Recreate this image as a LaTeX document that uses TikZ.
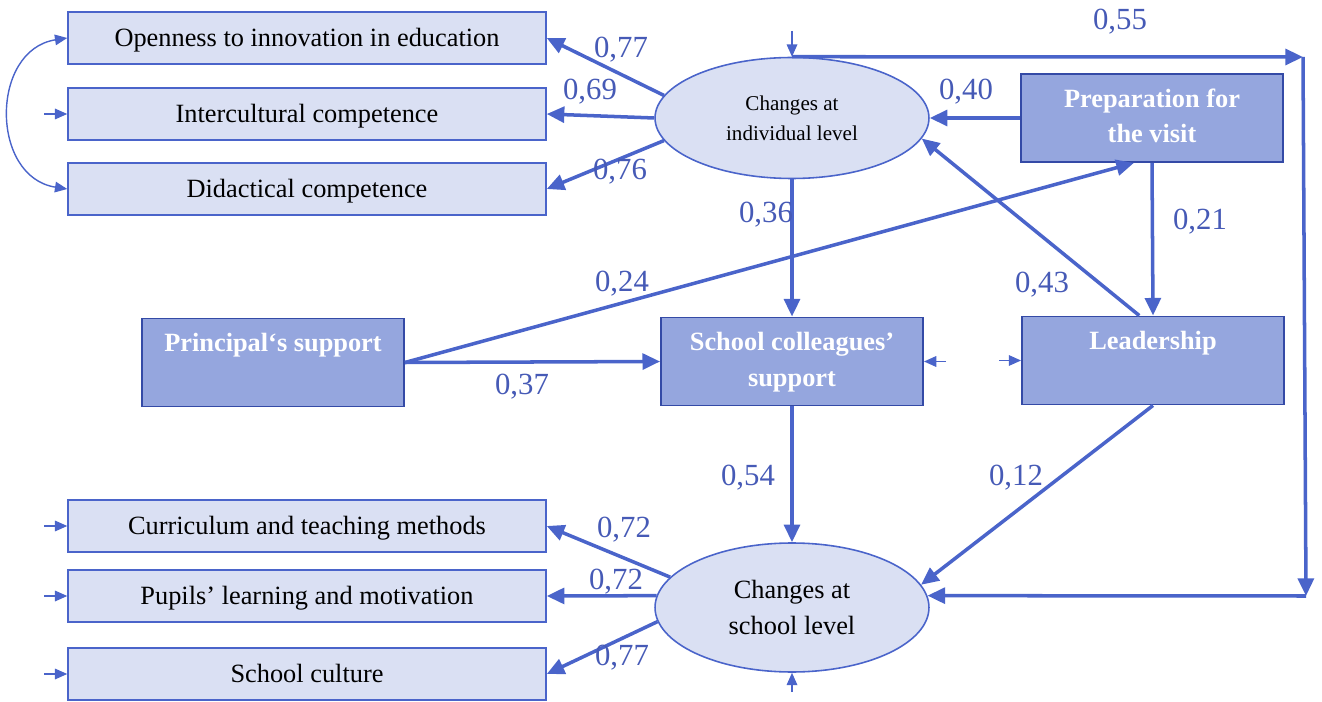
\documentclass[tikz,border=0pt]{standalone}
\usepackage{fontspec}
\setmainfont{Liberation Serif}
\usetikzlibrary{arrows.meta,shapes.geometric}
\definecolor{boxlight}{RGB}{218,224,243}
\definecolor{boxdark}{RGB}{149,166,222}
\definecolor{edgedark}{RGB}{52,74,166}
\definecolor{pathblue}{RGB}{74,100,202}
\definecolor{coefblue}{RGB}{70,90,182}

\begin{document}
\begin{tikzpicture}[x=0.02cm, y=-0.02cm,
    itembox/.style={draw=pathblue, line width=0.9pt, fill=boxlight, minimum width=9.56cm, minimum height=1.04cm, inner sep=0pt, text height=13pt, text depth=3.5pt, font=\fontsize{15}{18}\selectfont},
    factorbox/.style={draw=edgedark, line width=1.1pt, fill=boxdark, minimum width=5.24cm, minimum height=1.76cm, inner sep=0pt, text=white, align=center, font=\bfseries\fontsize{15}{20}\selectfont},
    latent/.style={ellipse, draw=pathblue, line width=0.9pt, fill=boxlight, minimum width=5.48cm, inner sep=0pt, align=center},
    effect/.style={-{Triangle[length=10pt,width=9pt]}, line width=2pt, pathblue},
    resid/.style={-{Triangle[length=7pt,width=6pt]}, line width=0.9pt, pathblue},
    covar/.style={{Triangle[length=7pt,width=6pt]}-{Triangle[length=7pt,width=6pt]}, line width=0.8pt, pathblue},
    coef/.style={text=coefblue, font=\fontsize{17.5}{20}\selectfont, inner sep=0pt}]
    \useasboundingbox (0,0) rectangle (1322,702);

    % indicators, individual level
    \node[itembox] (open) at (307,38) {Openness to innovation in education};
    \node[itembox] (inter) at (307,114) {Intercultural competence};
    \node[itembox] (didact) at (307,189) {Didactical competence};
    % indicators, school level
    \node[itembox] (curric) at (307,526) {Curriculum and teaching methods};
    \node[itembox] (pupils) at (307,596) {Pupils’ learning and motivation};
    \node[itembox] (culture) at (307,674) {School culture};

    \node[latent, minimum height=2.42cm, font=\fontsize{12}{17}\selectfont] (ind) at (792,118) {Changes at\\individual level};
    \node[latent, minimum height=2.58cm, font=\fontsize{15}{21}\selectfont] (sch) at (792,607.5) {Changes at\\school level};

    \node[factorbox] (prep) at (1152,118) {\strut Preparation for\\\strut the visit};
    \node[factorbox] (princ) at (273,362.5) {\strut Principal‘s support\\\strut};
    \node[factorbox] (coll) at (792,361.5) {\strut School colleagues’\\\strut support};
    \node[factorbox] (lead) at (1153,360.5) {\strut Leadership\\\strut};

    \coordinate (cornerTR) at (1303,57);
    \coordinate (cornerBR) at (1306,596);
    \coordinate (eind) at (792,31);
    \coordinate (esch) at (792,692);
    \coordinate (ecoll) at (946,361.5);
    \coordinate (elead) at (999,360.5);
    \coordinate (einter) at (44,114);
    \coordinate (ecurric) at (44,526);
    \coordinate (epupils) at (44,596);
    \coordinate (eculture) at (44,674);

    \draw[effect] (ind.170) -- (open.east);
    \draw[effect] (ind.west) -- (inter.east);
    \draw[effect] (ind.190) -- (didact.east);
    \draw[effect] (sch.166) -- (curric.east);
    \draw[effect] (sch.175) -- (pupils.east);
    \draw[effect] (sch.186) -- (culture.east);

    \draw[effect] (prep.west) -- (ind.east);
    \draw[effect] (prep.south) -- (lead.north);
    \draw[effect] (lead.107) -- (ind.-9);
    \draw[effect] (princ.east) -- (prep.248);
    \draw[effect] (princ.east) -- (coll.west);
    \draw[effect] (ind.south) -- (coll.north);
    \draw[effect] (coll.south) -- (sch.north);
    \draw[effect] (lead.south) -- (sch.10);
    \draw[effect] (ind.north) -- (cornerTR);
    \draw[effect] (cornerTR) -- (cornerBR);
    \draw[effect] (cornerBR) -- (sch.5);

    % residuals and covariance
    \draw[covar] (open.west) .. controls (-10,50) and (-10,177) .. (didact.west);
    \draw[resid] (einter) -- (inter.west);
    \draw[resid] (ecurric) -- (curric.west);
    \draw[resid] (epupils) -- (pupils.west);
    \draw[resid] (eculture) -- (culture.west);
    \draw[resid] (eind) -- (ind.north);
    \draw[resid] (esch) -- (sch.south);
    \draw[resid] (ecoll) -- (coll.east);
    \draw[resid] (elead) -- (lead.west);

    \node[coef] (k77a) at (621,50) {0,77};
    \node[coef] (k69) at (590,92) {0,69};
    \node[coef] (k76) at (620,172) {0,76};
    \node[coef] (k55) at (1120,22) {0,55};
    \node[coef] (k40) at (966,92) {0,40};
    \node[coef] (k36) at (766,215) {0,36};
    \node[coef] (k21) at (1200,222) {0,21};
    \node[coef] (k24) at (622,284) {0,24};
    \node[coef] (k43) at (1042,285) {0,43};
    \node[coef] (k37) at (522,387) {0,37};
    \node[coef] (k54) at (748,478) {0,54};
    \node[coef] (k12) at (1016,478) {0,12};
    \node[coef] (k72a) at (624,530) {0,72};
    \node[coef] (k72b) at (616,582) {0,72};
    \node[coef] (k77b) at (622,658) {0,77};
\end{tikzpicture}
\end{document}
